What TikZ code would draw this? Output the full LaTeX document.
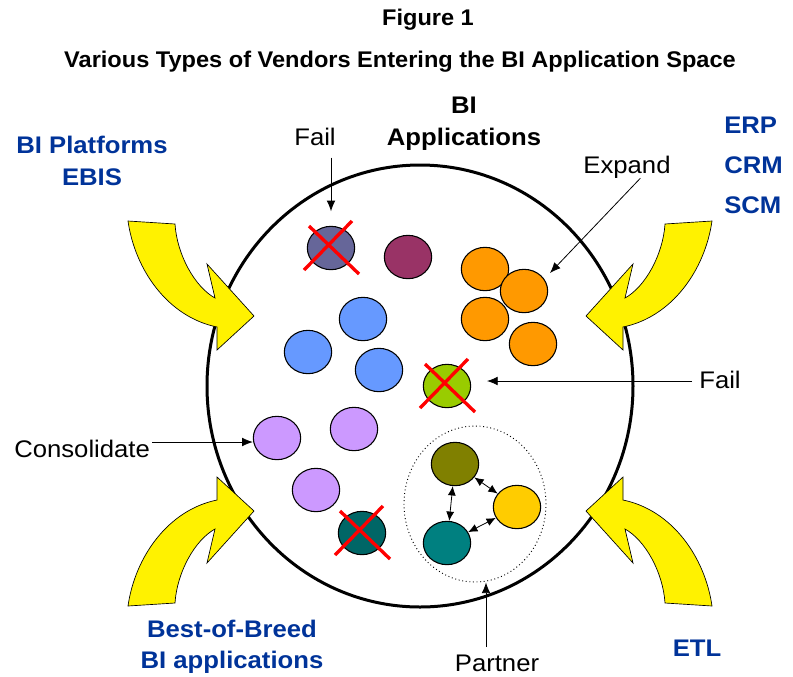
\documentclass[tikz,border=0pt]{standalone}
\usepackage{fontspec}
\setmainfont{Liberation Sans}
\usetikzlibrary{arrows.meta,shapes.geometric}

\definecolor{vendorblue}{HTML}{003399}
\definecolor{slate}{HTML}{666699}
\definecolor{plum}{HTML}{993366}
\definecolor{orangefirm}{HTML}{FF9900}
\definecolor{bluefirm}{HTML}{6699FF}
\definecolor{limefirm}{HTML}{99CC00}
\definecolor{lavender}{HTML}{CC99FF}
\definecolor{darkteal}{HTML}{006666}
\definecolor{olivefirm}{HTML}{808000}
\definecolor{goldfirm}{HTML}{FFCC00}
\definecolor{tealfirm}{HTML}{008080}

% 黄色弯箭头（左上方向，其余三个镜像）
\newcommand\yellowarrow{%
  \filldraw[fatarrow] (-292,-192.5) -- (-245,-189.5)
    .. controls (-243,-158.5) and (-225,-126.5) .. (-205,-115.5)
    -- (-213,-149.5) -- (-166,-97.5) -- (-203,-63.5) -- (-203,-86.5)
    .. controls (-252,-96.5) and (-285,-143.5) .. cycle;}

% 红色叉号
\newcommand\failcross[1]{%
  \draw[cross] ([shift={(-27,22)}]#1) -- ([shift={(21,-27)}]#1);
  \draw[cross] ([shift={(-22,-22)}]#1) -- ([shift={(28,26)}]#1);}

\begin{document}
\begin{tikzpicture}[x=0.75pt,y=-0.75pt,
    lbl/.style={anchor=base, inner sep=0pt, xscale=1.07, font=\fontsize{18}{21}\selectfont},
    vendor/.style={lbl, text=vendorblue, font=\fontsize{18}{21}\selectfont\bfseries},
    headline/.style={anchor=base, inner sep=0pt, xscale=1.04, font=\fontsize{17}{20}\selectfont\bfseries},
    firm/.style={draw, ellipse, line width=0.8pt, minimum width=35.5pt, minimum height=32.5pt, inner sep=0pt},
    pointer/.style={-{Latex[length=8pt,width=6.5pt]}, line width=0.6pt},
    link/.style={{Latex[length=7pt,width=6pt]}-{Latex[length=7pt,width=6pt]}, line width=0.6pt},
    fatarrow/.style={fill=yellow, draw=black, line width=0.5pt},
    cross/.style={red, line width=2.5pt}]
    \useasboundingbox (0,0) rectangle (793,676);

    % 绘制标题
    \node[headline] (figno) at (428,25) {Figure 1};
    \node[headline] (title) at (400,67) {Various Types of Vendors Entering the BI Application Space};

    % 绘制大圆
    \node[draw, ellipse, line width=2.25pt, minimum width=319.5pt, minimum height=331.5pt, inner sep=0pt] (space) at (420,386) {};
    \node[lbl, font=\fontsize{18}{21}\selectfont\bfseries] (bi) at (464,113) {BI};
    \node[lbl, font=\fontsize{18}{21}\selectfont\bfseries] (apps) at (464,145) {Applications};

    % 绘制四个黄色箭头
    \foreach \sx/\sy in {1/1,-1/1,1/-1,-1/-1}{
      \begin{scope}[shift={(420,413.5)}, xscale=\sx, yscale=\sy]
        \yellowarrow
      \end{scope}
    }

    % 绘制厂商类别
    \node[vendor] (platforms) at (92,153) {BI Platforms};
    \node[vendor] (ebis) at (92,185) {EBIS};
    \node[vendor, anchor=base west] (erp) at (724,133) {ERP};
    \node[vendor, anchor=base west] (crm) at (724,173) {CRM};
    \node[vendor, anchor=base west] (scm) at (724,213) {SCM};
    \node[vendor] (breed) at (232,637) {Best-of-Breed};
    \node[vendor] (biapps) at (232,668) {BI applications};
    \node[vendor] (etl) at (697,656) {ETL};

    % 绘制小圆
    \node[firm, fill=slate] (slate) at (331,248) {};
    \node[firm, fill=plum] (plum) at (408,257) {};
    \node[firm, fill=orangefirm] (orange1) at (485,269) {};
    \node[firm, fill=orangefirm] (orange2) at (524,291) {};
    \node[firm, fill=orangefirm] (orange3) at (485,319) {};
    \node[firm, fill=orangefirm] (orange4) at (533,344) {};
    \node[firm, fill=bluefirm] (blue1) at (363,319) {};
    \node[firm, fill=bluefirm] (blue2) at (308,352) {};
    \node[firm, fill=bluefirm] (blue3) at (379,370) {};
    \node[firm, fill=limefirm] (lime) at (447,386) {};
    \node[firm, fill=lavender] (lav1) at (277,438) {};
    \node[firm, fill=lavender] (lav2) at (354,429) {};
    \node[firm, fill=lavender] (lav3) at (316,490) {};
    \node[firm, fill=darkteal] (dteal) at (362,533) {};

    % 绘制合作圈
    \node[draw, ellipse, dotted, line width=0.7pt, minimum width=106.5pt, minimum height=117pt, inner sep=0pt] (group) at (475,504) {};
    \node[firm, fill=olivefirm] (olive) at (455,464) {};
    \node[firm, fill=goldfirm] (gold) at (517,507) {};
    \node[firm, fill=tealfirm] (teal) at (447,543) {};
    \draw[link] (olive) -- (gold);
    \draw[link] (olive) -- (teal);
    \draw[link] (teal) -- (gold);

    % 绘制红叉
    \failcross{slate.center}
    \failcross{lime.center}
    \failcross{dteal.center}

    % 绘制说明文字和指示箭头
    \node[lbl] (failtop) at (315,145) {Fail};
    \draw[pointer, shorten <=9pt, shorten >=10.9pt] (failtop.south -| slate) -- (slate.north);

    \node[lbl] (expand) at (627,173) {Expand};
    \coordinate (expand tip) at (550,273);
    \draw[pointer] ([xshift=10pt]expand.south) -- (expand tip);

    \node[lbl] (failright) at (720,388) {Fail};
    \coordinate (fail tip) at (487,381);
    \draw[pointer] (fail tip -| failright.west) ++(-7,0) -- (fail tip);

    \node[lbl, anchor=base west] (consol) at (14,457) {Consolidate};
    \coordinate (consol tail) at (152,442);
    \draw[pointer] (consol tail) -- (consol tail -| lav1.west);

    \node[lbl] (partner) at (497,671) {Partner};
    \coordinate (partner tail) at (486,647);
    \draw[pointer] (partner tail) -- (partner tail |- group.south);
\end{tikzpicture}
\end{document}
